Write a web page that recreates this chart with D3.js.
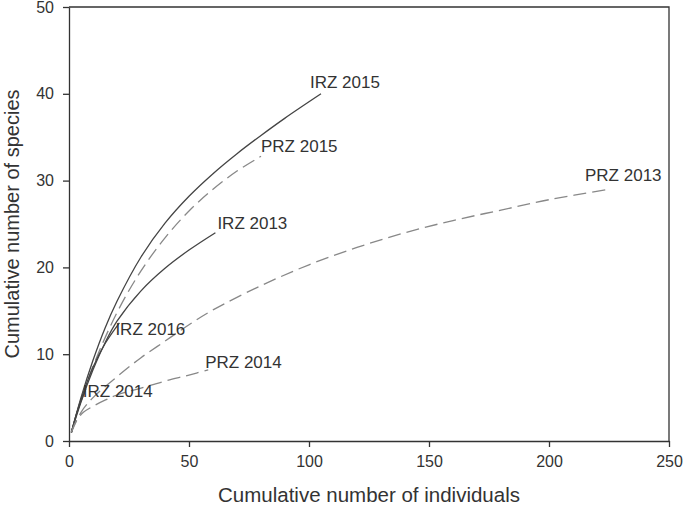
<!DOCTYPE html>
<html>
<head>
<meta charset="utf-8">
<script src="https://cdn.jsdelivr.net/npm/d3@7"></script>
<style>
  body { margin: 0; background: #fff; }
  text { font-family: "Liberation Sans", Arial, sans-serif; fill: #333; }
</style>
</head>
<body>
<div id="chart"></div>
<script>
const width = 685;
const height = 510;
const margin = { top: 7, right: 16, bottom: 69, left: 69 };

// rarefaction curves: [individuals, species]
const irz2015 = [[1,1],[5,5],[10,9.3],[15,13],[20,16.1],[30,21.2],[40,25.1],[50,28.2],[60,30.8],[70,33.1],[80,35.2],[90,37.2],[105,40]];
const prz2015 = [[1,1],[5,4.7],[10,8.6],[20,14.8],[30,19.6],[40,23.4],[50,26.5],[60,29],[70,31.1],[80,32.8]];
const irz2013 = [[1,1],[5,4.5],[10,8.2],[15,11.3],[20,13.8],[30,17.3],[40,19.9],[50,22],[61,24]];
const irz2016 = [[1,1],[5,4.8],[10,8.5],[15,11.2],[21,13.6]];
const irz2014 = [[1,1],[3,3],[5,4.6],[7,6]];
const prz2014 = [[1,1],[3,2.3],[6,3.3],[10,4],[15,4.7],[20,5.3],[30,6.1],[40,6.9],[50,7.6],[58,8.2]];
const prz2013 = [[1,1],[5,3.3],[10,5],[20,7.4],[30,9.6],[40,11.5],[50,13.4],[60,15.1],[80,17.9],[100,20.3],[120,22.3],[140,24],[160,25.4],[180,26.6],[200,27.8],[225,29]];

const seriesNames = ["IRZ 2015", "PRZ 2015", "IRZ 2013", "IRZ 2016", "IRZ 2014", "PRZ 2014", "PRZ 2013"];
const seriesData = [irz2015, prz2015, irz2013, irz2016, irz2014, prz2014, prz2013];
const seriesDashed = [false, true, false, false, false, true, true];

const xTicks = [0, 50, 100, 150, 200, 250];
const yTicks = [0, 10, 20, 30, 40, 50];

// label offsets from each curve's last point, in px
const labelOffsets = [[-11, -6], [0, -4], [2, -4], [-4, 12], [-3, 8], [-3, -2], [-24, -8]];

const svg = d3.select("#chart")
  .append("svg")
  .attr("width", width)
  .attr("height", height);

const x = d3.scaleLinear()
  .domain([0, 250])
  .range([margin.left, width - margin.right]);

const y = d3.scaleLinear()
  .domain([0, 50])
  .range([height - margin.bottom, margin.top]);

// frame (top and right)
svg.append("path")
  .attr("d", `M${x(0)},${y(50)}H${x(250)}V${y(0)}`)
  .attr("fill", "none")
  .attr("stroke", "#333")
  .attr("stroke-width", 1.3);

const xAxis = svg.append("g")
  .attr("transform", `translate(0,${y(0)})`)
  .call(d3.axisBottom(x).tickValues(xTicks).tickSize(6).tickSizeOuter(0).tickPadding(9));

const yAxis = svg.append("g")
  .attr("transform", `translate(${x(0)},0)`)
  .call(d3.axisLeft(y).tickValues(yTicks).tickSize(6).tickSizeOuter(0).tickPadding(9));

[xAxis, yAxis].forEach(a => {
  a.selectAll("path, line").attr("stroke", "#333").attr("stroke-width", 1.3);
  a.selectAll("text").style("font-size", "16px").attr("fill", "#333");
});

const line = d3.line()
  .x(d => x(d[0]))
  .y(d => y(d[1]))
  .curve(d3.curveCatmullRom.alpha(0.5));

svg.selectAll(".curve")
  .data(seriesData)
  .enter()
  .append("path")
  .attr("class", "curve")
  .attr("d", line)
  .attr("fill", "none")
  .attr("stroke", (d, i) => seriesDashed[i] ? "#888" : "#444")
  .attr("stroke-width", 1.3)
  .attr("stroke-dasharray", (d, i) => seriesDashed[i] ? "13,6" : null);

svg.selectAll(".lab")
  .data(seriesData)
  .enter()
  .append("text")
  .attr("class", "lab")
  .attr("x", (d, i) => x(d[d.length - 1][0]) + labelOffsets[i][0])
  .attr("y", (d, i) => y(d[d.length - 1][1]) + labelOffsets[i][1])
  .style("font-size", "17px")
  .text((d, i) => seriesNames[i]);

svg.append("text")
  .attr("x", (x(0) + x(250)) / 2)
  .attr("y", 502)
  .attr("text-anchor", "middle")
  .style("font-size", "20.5px")
  .text("Cumulative number of individuals");

svg.append("text")
  .attr("transform", `translate(19,${(y(0) + y(50)) / 2}) rotate(-90)`)
  .attr("text-anchor", "middle")
  .style("font-size", "20px")
  .text("Cumulative number of species");
</script>
</body>
</html>
